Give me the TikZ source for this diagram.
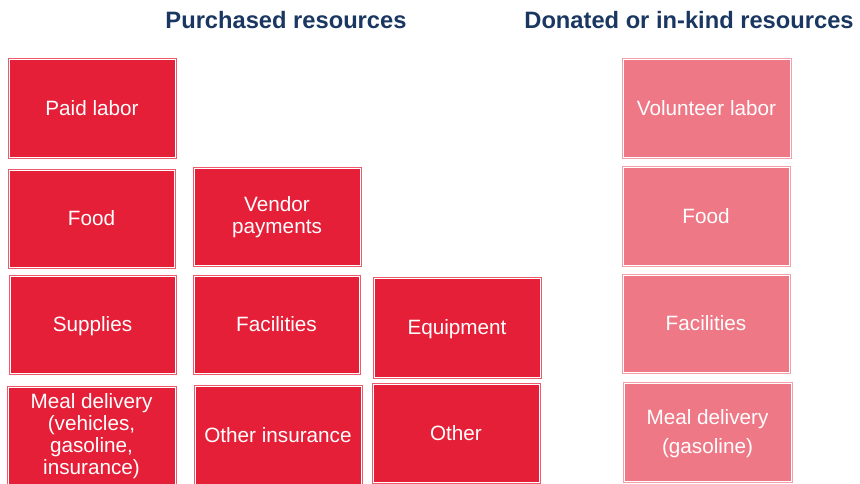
\documentclass[tikz,border=0pt]{standalone}
\usepackage{fontspec}
\setmainfont{Liberation Sans}
\definecolor{redfill}{HTML}{E51F37}
\definecolor{rededge}{HTML}{EE5A6C}
\definecolor{pinkfill}{HTML}{EF7886}
\definecolor{pinkedge}{HTML}{F4A0AA}
\definecolor{navy}{HTML}{1A3762}
\tikzset{
  box/.style={draw=white, line width=1pt, outer sep=0pt, inner sep=2pt, align=center,
    text=white, font=\fontsize{20.7}{22}\selectfont},
  oneline/.style={text height=14.8pt, text depth=0pt},
  purch/.style={box, fill=redfill},
  donat/.style={box, fill=pinkfill},
  heading/.style={anchor=base, text=navy, font=\bfseries\fontsize{23.7}{26}\selectfont, inner sep=0pt}
}
\begin{document}
\begin{tikzpicture}[x=1pt,y=-1pt]
\useasboundingbox (0,0) rectangle (860,483);
\node[heading] (t1) at (286,28) {Purchased resources};
\node[heading] (t2) at (689,28) {Donated or in-kind resources};

\node[purch, oneline, minimum width=166pt, minimum height=98pt] (paid) at (92,108) {Paid labor};
\node[purch, oneline, minimum width=165pt, minimum height=97pt] (food) at (91.5,218.5) {Food};
\node[purch, minimum width=166pt, minimum height=97pt, text depth=3pt] (vendor) at (277,216.5) {Vendor\\payments};
\node[purch, oneline, minimum width=165pt, minimum height=97pt] (supp) at (92.5,324.5) {Supplies};
\node[purch, oneline, minimum width=165pt, minimum height=97pt] (fac) at (276.5,324.5) {Facilities};
\node[purch, oneline, minimum width=166pt, minimum height=99pt] (equip) at (457,327.5) {Equipment};
\node[purch, oneline, minimum width=166pt, minimum height=98pt] (other) at (456,433) {Other};
\node[purch, minimum width=167pt, minimum height=98pt] (meal) at (91.5,436) {Meal delivery\\(vehicles,\\gasoline,\\insurance)};
\node[purch, oneline, minimum width=166pt, minimum height=98pt] (ins) at (278,435) {Other insurance};

\node[donat, oneline, minimum width=167pt, minimum height=98pt] (vol) at (706.5,108) {Volunteer labor};
\node[donat, oneline, minimum width=166pt, minimum height=98pt] (dfood) at (706,216) {Food};
\node[donat, oneline, minimum width=166pt, minimum height=97pt] (dfac) at (706,323.5) {Facilities};
\node[donat, minimum width=167pt, minimum height=98pt, text depth=2pt, font=\fontsize{20.7}{29}\selectfont] (dmeal) at (707.5,432) {Meal delivery\\(gasoline)};

\foreach \n in {paid,food,vendor,supp,fac,equip,other,meal,ins}
  \draw[rededge, line width=0.8pt] ([shift={(-0.9pt,0.9pt)}]\n.north west) rectangle ([shift={(0.9pt,-0.9pt)}]\n.south east);
\foreach \n in {vol,dfood,dfac,dmeal}
  \draw[pinkedge, line width=0.8pt] ([shift={(-0.9pt,0.9pt)}]\n.north west) rectangle ([shift={(0.9pt,-0.9pt)}]\n.south east);
\end{tikzpicture}
\end{document}
